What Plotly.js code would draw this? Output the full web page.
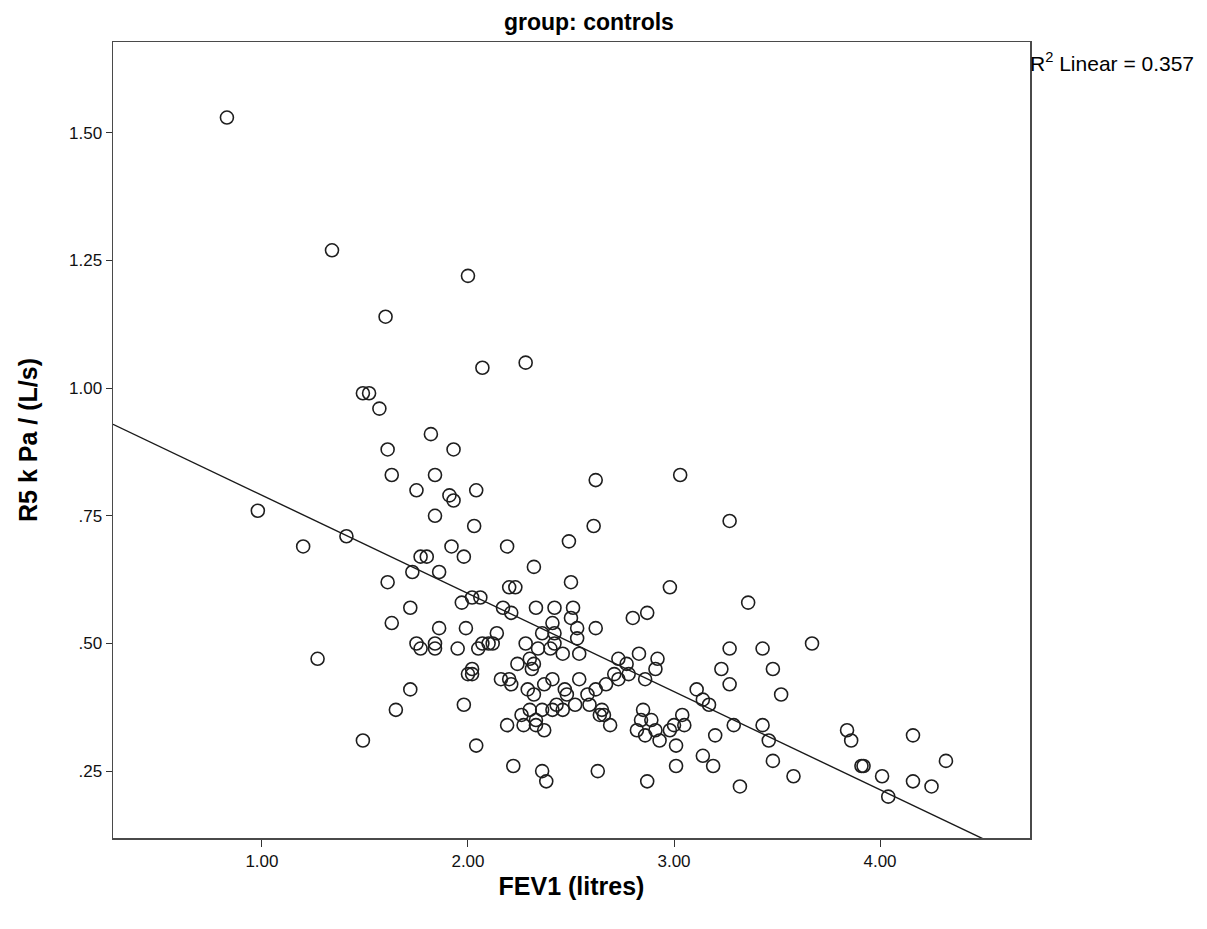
<!DOCTYPE html>
<html><head><meta charset="utf-8">
<script src="https://cdn.plot.ly/plotly-3.0.1.min.js"></script>
<style>html,body{margin:0;padding:0;background:#fff}</style>
</head><body>
<div id="chart" style="width:1207px;height:929px"></div>
<script>
// FEV1 (litres) and R5 kPa/(L/s), group: controls
const fev1 = [
 0.83,1.34,2.00,1.60,2.28,2.07,1.49,1.52,1.57,1.82,
 1.61,1.93,1.63,1.84,2.62,3.03,1.75,2.04,1.91,1.93,
 1.84,0.98,3.27,2.03,2.61,1.41,2.49,1.20,1.92,2.19,
 1.77,1.80,1.98,2.32,1.73,1.86,1.61,2.50,2.98,2.20,
 2.23,2.02,2.06,1.97,3.36,2.17,2.21,1.72,2.33,2.42,
 2.51,2.50,2.80,2.87,2.41,2.42,1.63,1.86,1.99,2.53,
 2.62,2.14,2.36,2.53,1.75,1.77,1.84,1.84,1.95,2.05,
 2.07,2.10,2.28,2.34,2.40,3.67,3.27,3.43,2.83,2.46,
 2.54,2.73,2.77,2.92,2.91,1.27,2.24,2.30,2.32,2.31,
 2.02,2.02,2.00,3.23,3.48,2.16,2.20,2.21,2.37,2.41,
 2.54,2.71,2.73,2.78,2.86,3.27,2.29,2.32,2.47,2.48,
 2.62,2.67,2.58,1.72,3.11,3.14,3.17,3.52,1.98,1.65,
 2.36,2.43,2.46,2.52,2.59,2.65,2.66,2.64,2.69,2.85,
 2.84,2.89,2.82,2.86,2.91,2.93,2.98,3.00,3.04,3.05,
 3.29,3.43,3.46,3.20,2.19,2.26,2.27,2.33,2.33,2.37,
 1.49,2.04,3.01,3.84,3.86,4.16,2.22,2.36,2.38,2.63,
 2.87,3.01,3.14,3.19,3.48,3.58,3.32,3.91,3.92,4.01,
 4.16,4.25,4.32,4.04,2.42,2.12,2.30,2.41
];
const r5 = [
 1.53,1.27,1.22,1.14,1.05,1.04,0.99,0.99,0.96,0.91,
 0.88,0.88,0.83,0.83,0.82,0.83,0.80,0.80,0.79,0.78,
 0.75,0.76,0.74,0.73,0.73,0.71,0.70,0.69,0.69,0.69,
 0.67,0.67,0.67,0.65,0.64,0.64,0.62,0.62,0.61,0.61,
 0.61,0.59,0.59,0.58,0.58,0.57,0.56,0.57,0.57,0.57,
 0.57,0.55,0.55,0.56,0.54,0.52,0.54,0.53,0.53,0.53,
 0.53,0.52,0.52,0.51,0.50,0.49,0.50,0.49,0.49,0.49,
 0.50,0.50,0.50,0.49,0.49,0.50,0.49,0.49,0.48,0.48,
 0.48,0.47,0.46,0.47,0.45,0.47,0.46,0.47,0.46,0.45,
 0.45,0.44,0.44,0.45,0.45,0.43,0.43,0.42,0.42,0.43,
 0.43,0.44,0.43,0.44,0.43,0.42,0.41,0.40,0.41,0.40,
 0.41,0.42,0.40,0.41,0.41,0.39,0.38,0.40,0.38,0.37,
 0.37,0.38,0.37,0.38,0.38,0.37,0.36,0.36,0.34,0.37,
 0.35,0.35,0.33,0.32,0.33,0.31,0.33,0.34,0.36,0.34,
 0.34,0.34,0.31,0.32,0.34,0.36,0.34,0.35,0.34,0.33,
 0.31,0.30,0.30,0.33,0.31,0.32,0.26,0.25,0.23,0.25,
 0.23,0.26,0.28,0.26,0.27,0.24,0.22,0.26,0.26,0.24,
 0.23,0.22,0.27,0.20,0.50,0.50,0.37,0.37
];
const xTickVals = [1, 2, 3, 4];
const xTickText = ['1.00', '2.00', '3.00', '4.00'];
const yTickVals = [0.25, 0.50, 0.75, 1.00, 1.25, 1.50];
const yTickText = ['.25', '.50', '.75', '1.00', '1.25', '1.50'];
const chartTitle = 'group: controls';
const xTitle = 'FEV1 (litres)';
const yTitle = 'R5 k Pa / (L/s)';
const r2Label = 'R<sup>2</sup> Linear = 0.357';

const xRange = [0.277, 4.728];
const yRange = [0.119, 1.678];

// least-squares fit line from the data
const n = fev1.length;
const mx = fev1.reduce((a, b) => a + b, 0) / n;
const my = r5.reduce((a, b) => a + b, 0) / n;
let sxy = 0, sxx = 0;
for (let i = 0; i < n; i++) { sxy += (fev1[i] - mx) * (r5[i] - my); sxx += (fev1[i] - mx) ** 2; }
const slope = sxy / sxx;
const intercept = my - slope * mx;
const lineX = [xRange[0], xRange[1]];
const lineY = lineX.map(x => intercept + slope * x);

const font = 'Liberation Sans, Arial, sans-serif';

const traces = [
  {
    x: lineX, y: lineY, mode: 'lines', type: 'scatter',
    line: { color: '#1a1a1a', width: 1.4 }, hoverinfo: 'skip', showlegend: false
  },
  {
    x: fev1, y: r5, mode: 'markers', type: 'scatter',
    marker: { symbol: 'circle-open', size: 13, color: '#1e1e1e', line: { width: 1.6, color: '#1e1e1e' } },
    showlegend: false
  }
];

const layout = {
  width: 1207, height: 929,
  margin: { l: 113, r: 177, t: 42, b: 91 },
  paper_bgcolor: '#fff', plot_bgcolor: '#fff',
  font: { family: font, color: '#000' },
  title: {
    text: '<b>' + chartTitle + '</b>', font: { family: font, size: 23, color: '#000' },
    xref: 'paper', x: 0.519, xanchor: 'center', yref: 'container', y: 1 - 22 / 929, yanchor: 'middle'
  },
  xaxis: {
    range: xRange, tickvals: xTickVals, ticktext: xTickText,
    showgrid: false, zeroline: false, showline: true, mirror: true,
    linecolor: '#4a4a4a', linewidth: 1.5,
    ticks: 'outside', ticklen: 7, tickcolor: '#333', tickwidth: 1,
    tickfont: { family: font, size: 17, color: '#111' },
    title: { text: '<b>' + xTitle + '</b>', font: { family: font, size: 25, color: '#000' }, standoff: 7 },
    automargin: false
  },
  yaxis: {
    range: yRange, tickvals: yTickVals, ticktext: yTickText,
    showgrid: false, zeroline: false, showline: true, mirror: true,
    linecolor: '#4a4a4a', linewidth: 1.5,
    ticks: 'outside', ticklen: 6, tickcolor: '#333', tickwidth: 1,
    tickfont: { family: font, size: 17, color: '#111' },
    title: { text: '<b>' + yTitle + '</b>', font: { family: font, size: 25, color: '#000' }, standoff: 24 },
    automargin: false
  },
  annotations: [
    {
      text: r2Label, xref: 'paper', yref: 'paper', x: 1, y: 0.975,
      xanchor: 'left', yanchor: 'middle', showarrow: false, xshift: -2,
      font: { family: font, size: 21, color: '#000' }
    }
  ]
};

Plotly.newPlot('chart', traces, layout, { displayModeBar: false, staticPlot: true });
</script>
</body></html>
